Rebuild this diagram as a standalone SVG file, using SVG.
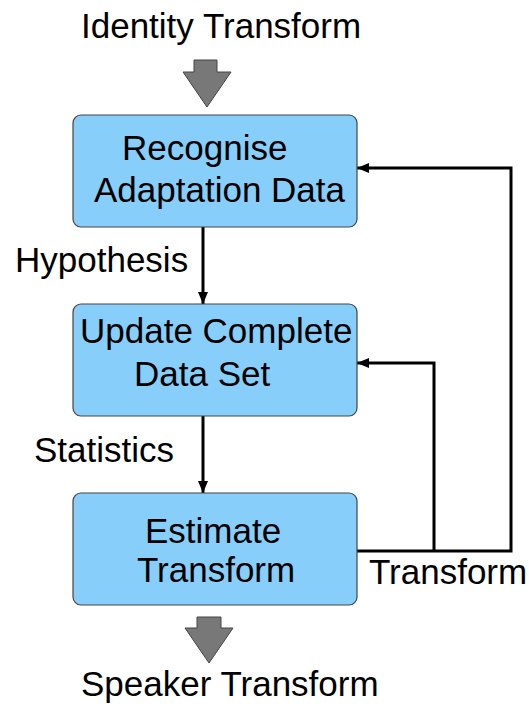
<svg xmlns="http://www.w3.org/2000/svg" width="529" height="706" viewBox="0 0 529 706">
  <style>
    .box { fill: #87CEFA; stroke: #444444; stroke-width: 1.2; }
    .lbl { font-family: "Liberation Sans", Arial, sans-serif; font-size: 35px; fill: #000000; }
    .wire { fill: none; stroke: #000000; stroke-width: 3; }
    .big { fill: #787878; stroke: #444444; stroke-width: 1; }
  </style>
  <defs>
    <marker id="head" viewBox="0 0 12 10" refX="12" refY="5" markerWidth="12" markerHeight="10" markerUnits="userSpaceOnUse" orient="auto">
      <path d="M0,0 L12,5 L0,10 Z" fill="#000000"/>
    </marker>
  </defs>

  <!-- input / output labels -->
  <text class="lbl" x="81" y="38">Identity Transform</text>
  <text class="lbl" x="81" y="696">Speaker Transform</text>

  <!-- wide grey arrows in and out -->
  <path class="big" d="M194,60 L217,60 L217,72 L231,72 L207,107 L183,72 L194,72 Z"/>
  <path class="big" d="M197,617 L221,617 L221,628 L233,628 L209,663 L185,628 L197,628 Z"/>

  <!-- connectors -->
  <g id="connectors">
    <line class="wire" x1="203" y1="227" x2="203" y2="304" marker-end="url(#head)"/>
    <line class="wire" x1="203" y1="416" x2="203" y2="493" marker-end="url(#head)"/>
    <polyline class="wire" points="357,551 511,551 511,168 357,168" marker-end="url(#head)"/>
    <polyline class="wire" points="434,551 434,363 357,363" marker-end="url(#head)"/>
    <text class="lbl" x="15" y="272">Hypothesis</text>
    <text class="lbl" x="34" y="462">Statistics</text>
    <text class="lbl" x="369" y="584">Transform</text>
  </g>

  <g id="recognise">
    <rect class="box" x="73" y="115" width="284" height="112" rx="8"/>
    <text class="lbl" x="122" y="160">Recognise</text>
    <text class="lbl" x="94" y="202">Adaptation Data</text>
  </g>

  <g id="update">
    <rect class="box" x="73" y="304" width="284" height="112" rx="8"/>
    <text class="lbl" x="80" y="343">Update Complete</text>
    <text class="lbl" x="134" y="386">Data Set</text>
  </g>

  <g id="estimate">
    <rect class="box" x="73" y="493" width="284" height="112" rx="8"/>
    <text class="lbl" x="145" y="543">Estimate</text>
    <text class="lbl" x="137" y="582">Transform</text>
  </g>
</svg>
